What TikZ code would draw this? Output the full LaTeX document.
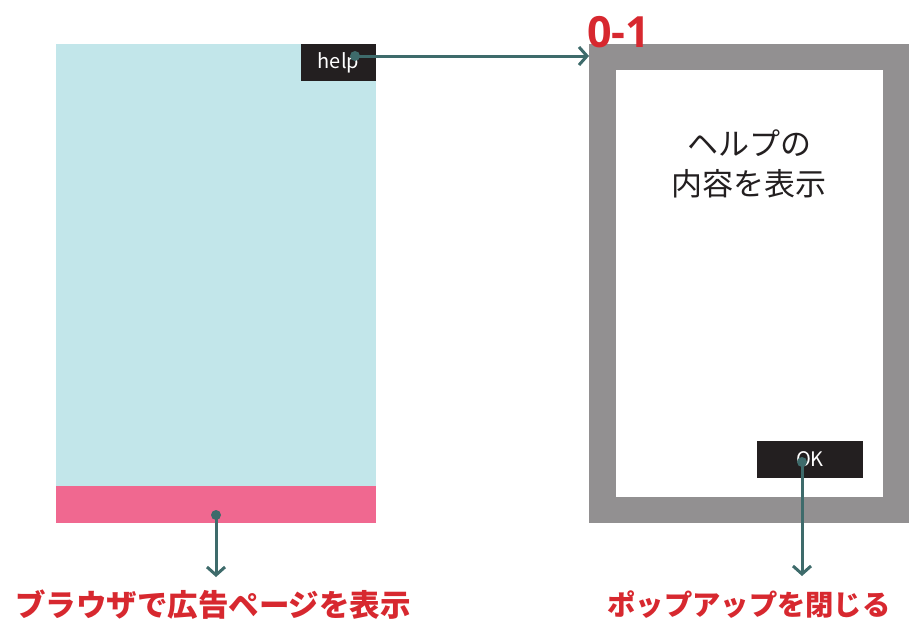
\documentclass[tikz,border=0pt]{standalone}
\usepackage{fontspec}
\setmainfont{Noto Sans CJK JP}
\newfontfamily\numfont{Open Sans}
\usetikzlibrary{arrows.meta}
\definecolor{lightblue}{HTML}{C2E6EA}
\definecolor{pinkbar}{HTML}{F06890}
\definecolor{darkbox}{HTML}{231F20}
\definecolor{framegray}{HTML}{929091}
\definecolor{redtxt}{HTML}{D7282F}
\definecolor{teal}{HTML}{3E6B6B}
\tikzset{
  conn/.style={draw=teal,line width=3pt,-{Straight Barb[length=8pt,width=18pt,line width=3pt]}},
  dot/.style={circle,fill=teal,inner sep=0pt,minimum size=10pt},
  btn/.style={fill=darkbox,text=white,inner sep=0pt,font=\fontsize{20}{22}\selectfont},
  redlabel/.style={text=redtxt,inner sep=0pt},
}
\begin{document}
\begin{tikzpicture}[x=1pt,y=-1pt]
\useasboundingbox (0,0) rectangle (909,627);
% left screen
\fill[lightblue] (56,44) rectangle (376,486);
\fill[pinkbar] (56,486) rectangle (376,523);
\node[btn,minimum width=75pt,minimum height=37pt] (help) at (338.5,62.5) {help};
% right popup
\fill[framegray] (589,44) rectangle (909,523);
\fill[white] (616,70) rectangle (883,497);
\node[text=redtxt,inner sep=0pt,anchor=south west,font=\numfont\bfseries\fontsize{43}{43}\selectfont] (title) at (587,48) {0-1};
\node[align=center,inner sep=0pt,font=\fontsize{31}{40}\selectfont,text=darkbox] (content) at (749,164) {ヘルプの\\内容を表示};
\node[btn,minimum width=106pt,minimum height=37pt] (ok) at (810,459.5) {OK};
% dots
\node[dot] (d1) at (355,56) {};
\node[dot] (d2) at (216,515) {};
\node[dot] (d3) at (802,462) {};
\coordinate (t1) at (589,56);
\node[redlabel,font=\bfseries\fontsize{30.5}{30}\selectfont] (lab1) at (213,605) {ブラウザで広告ページを表示};
\node[redlabel,font=\bfseries\fontsize{28.3}{28}\selectfont] (lab2) at (749,605) {ポップアップを閉じる};
\coordinate (t2) at (216,577);
\coordinate (t3) at (802,576);
\draw[conn] (d1.center) -- (t1);
\draw[conn] (d2.center) -- (t2);
\draw[conn] (d3.center) -- (t3);
\end{tikzpicture}
\end{document}
